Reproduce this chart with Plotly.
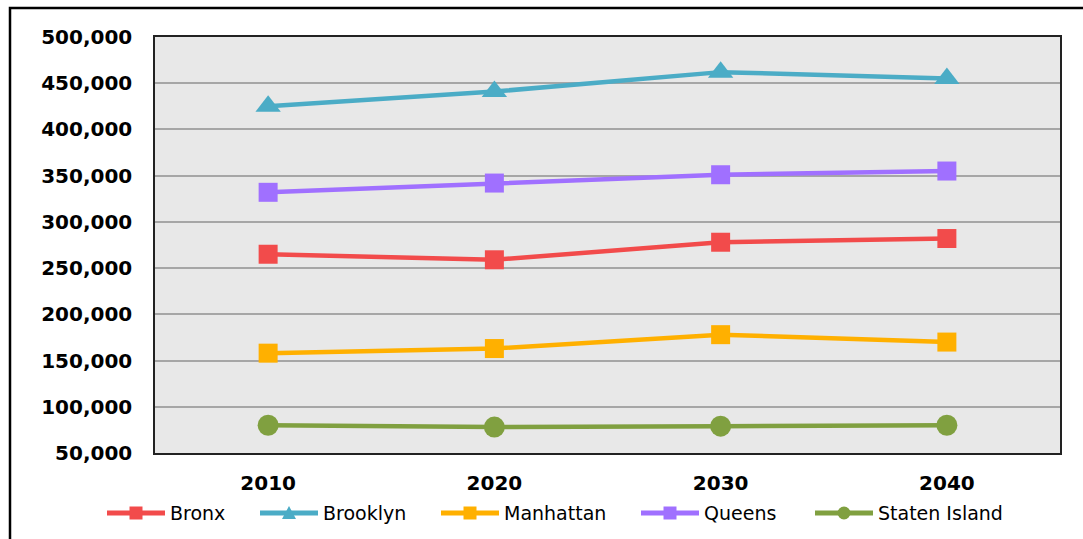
import plotly.graph_objects as go

years = ["2010", "2020", "2030", "2040"]
bronx = [265000, 259000, 278000, 282000]
brooklyn = [425000, 441000, 462000, 455000]
manhattan = [158000, 163000, 178000, 170000]
queens = [332000, 342000, 351000, 355000]
staten_island = [80000, 78000, 79000, 80000]

y_ticks = [50000, 100000, 150000, 200000, 250000, 300000, 350000, 400000, 450000, 500000]
y_tick_labels = [f"{v:,}" for v in y_ticks]

series_names = ["Bronx", "Brooklyn", "Manhattan", "Queens", "Staten Island"]
series_values = [bronx, brooklyn, manhattan, queens, staten_island]

# styling (not data)
colors = ["#F24B4B", "#4BACC6", "#FFB000", "#A070FF", "#80A040"]
symbols = ["square", "triangle-up", "square", "square", "circle"]
sizes = [19, 22, 19, 19, 21]
legend_line_x = [107, 260, 441, 641, 815]   # legend layout, pixels

FONT = "DejaVu Sans, Liberation Sans, Arial, sans-serif"
W, H = 1083, 539
L, R, T, B = 155, 23, 37, 86
pw, ph = W - L - R, H - T - B


def px_x(x):
    return (x - L) / pw


def px_y(y):
    return 1 - (y - T) / ph


fig = go.Figure()
for name, vals, color, sym, size in zip(series_names, series_values, colors, symbols, sizes):
    fig.add_trace(go.Scatter(
        x=years, y=vals, name=name, mode="lines+markers",
        line=dict(color=color, width=4.5),
        marker=dict(symbol=sym, size=size, color=color),
        showlegend=False,
    ))

fig.update_layout(
    width=W, height=H,
    margin=dict(l=L, r=R, t=T, b=B, pad=0, autoexpand=False),
    paper_bgcolor="white",
    plot_bgcolor="#E8E8E8",
    font=dict(family=FONT, color="black"),
    showlegend=False,
    xaxis=dict(
        type="category", range=[-0.5, 3.5],
        showgrid=False, zeroline=False,
        showline=True, linecolor="#222222", linewidth=1.5, mirror=True,
        ticks="", tickfont=dict(family=FONT, size=20, weight="bold", color="black"),
        ticklabelstandoff=11,
    ),
    yaxis=dict(
        range=[50000, 500000],
        tickvals=y_ticks, ticktext=y_tick_labels,
        showgrid=True, gridcolor="#A6A6A6", gridwidth=2,
        zeroline=False,
        showline=True, linecolor="#222222", linewidth=1.5, mirror=True,
        ticks="", tickfont=dict(family=FONT, size=20, weight="bold", color="black"),
        ticklabelstandoff=17,
    ),
)

# custom legend (long line samples like the reference)
ly = 513
for name, color, sym, x0 in zip(series_names, colors, symbols, legend_line_x):
    x1 = x0 + 58
    xc = (x0 + x1) / 2
    fig.add_shape(type="line", xref="paper", yref="paper",
                  x0=px_x(x0), x1=px_x(x1), y0=px_y(ly), y1=px_y(ly),
                  line=dict(color=color, width=5))
    s = 6.5
    if sym == "square":
        fig.add_shape(type="rect", xref="paper", yref="paper",
                      x0=px_x(xc - s), x1=px_x(xc + s), y0=px_y(ly - s), y1=px_y(ly + s),
                      line=dict(width=0), fillcolor=color)
    elif sym == "circle":
        fig.add_shape(type="circle", xref="paper", yref="paper",
                      x0=px_x(xc - s), x1=px_x(xc + s), y0=px_y(ly - s), y1=px_y(ly + s),
                      line=dict(width=0), fillcolor=color)
    else:
        path = (f"M {px_x(xc - 7)} {px_y(ly + 6)} L {px_x(xc + 7)} {px_y(ly + 6)} "
                f"L {px_x(xc)} {px_y(ly - 7)} Z")
        fig.add_shape(type="path", xref="paper", yref="paper", path=path,
                      line=dict(width=0), fillcolor=color)
    fig.add_annotation(xref="paper", yref="paper", x=px_x(x1 + 3), y=px_y(ly),
                       xanchor="left", yanchor="middle", showarrow=False,
                       text=name, font=dict(family=FONT, size=19, color="black"))

# outer chart frame (partially cropped in the reference)
fig.add_shape(
    type="rect", xref="paper", yref="paper",
    x0=px_x(10), x1=px_x(W + 20),
    y0=px_y(H + 20), y1=px_y(8),
    line=dict(color="black", width=2.5), fillcolor="rgba(0,0,0,0)", layer="above",
)

fig.write_html("out.html")
